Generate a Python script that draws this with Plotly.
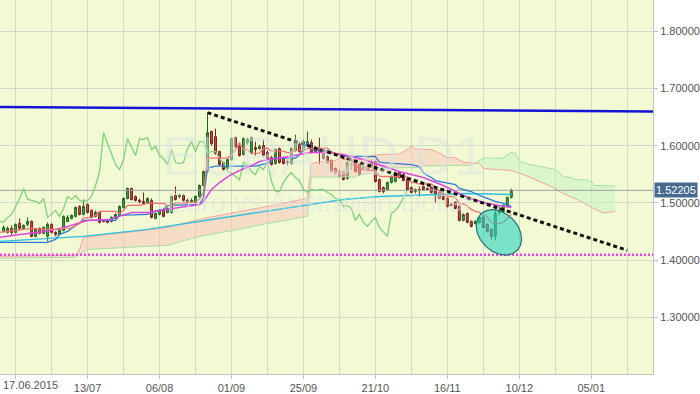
import numpy as np
import plotly.graph_objects as go

# ---------------- data (EURAUD daily, bar index 0 = 17.06.2015) ----------------
first_bar = -3
opens = [1.4504, 1.4486, 1.4556, 1.4486, 1.4643, 1.4556, 1.4626, 1.4678, 1.4417, 1.4556,
         1.4469, 1.4417, 1.4626, 1.4486, 1.4451, 1.4521, 1.4678, 1.4730, 1.4765, 1.4939,
         1.4800, 1.4974, 1.4870, 1.4765, 1.4835, 1.4695, 1.4695, 1.4678, 1.4730, 1.4783,
         1.4922, 1.5079, 1.5253, 1.5113, 1.5044, 1.5026, 1.5009, 1.5044, 1.4730, 1.4800,
         1.4887, 1.4835, 1.4835, 1.5131, 1.5113, 1.5131, 1.5044, 1.5026, 1.5009, 1.5113,
         1.5305, 1.5549, 1.6246, 1.6158, 1.5897, 1.5706, 1.5601, 1.5758, 1.6141, 1.5984,
         1.5845, 1.6054, 1.5880, 1.5967, 1.5949, 1.6002, 1.5880, 1.5793, 1.5688, 1.5949,
         1.5775, 1.5723, 1.5688, 1.5915, 1.6019, 1.5915, 1.6002, 1.6054, 1.5932, 1.5949,
         1.5880, 1.5810, 1.5741, 1.5601, 1.5549, 1.5549, 1.5427, 1.5653, 1.5706, 1.5671,
         1.5584, 1.5636, 1.5636, 1.5723, 1.5409, 1.5270, 1.5235, 1.5357, 1.5375, 1.5531,
         1.5497, 1.5409, 1.5270, 1.5200, 1.5235, 1.5288, 1.5253, 1.5270, 1.5235, 1.5183,
         1.5113, 1.5079, 1.4974, 1.5009, 1.4939, 1.4695, 1.4817, 1.4678, 1.4643, 1.4661,
         1.4748, 1.4626, 1.4539, 1.4417, 1.4835, 1.4852, 1.4939, 1.5096]
highs = [1.4608, 1.4591, 1.4608, 1.4643, 1.4730, 1.4626, 1.4748, 1.4695, 1.4556, 1.4573,
         1.4591, 1.4661, 1.4643, 1.4504, 1.4539, 1.4783, 1.4783, 1.4800, 1.4939, 1.4957,
         1.5061, 1.4992, 1.4887, 1.4870, 1.4852, 1.4713, 1.4713, 1.4765, 1.4817, 1.4957,
         1.5096, 1.5270, 1.5270, 1.5131, 1.5079, 1.5183, 1.5096, 1.5079, 1.4835, 1.4887,
         1.4904, 1.4922, 1.5131, 1.5288, 1.5166, 1.5148, 1.5079, 1.5079, 1.5131, 1.5322,
         1.5566, 1.6577, 1.6263, 1.6298, 1.5915, 1.5723, 1.5775, 1.6141, 1.6158, 1.6019,
         1.6141, 1.6141, 1.6158, 1.6071, 1.6019, 1.6106, 1.5915, 1.5828, 1.5949, 1.5967,
         1.5810, 1.5758, 1.5967, 1.6193, 1.6054, 1.6106, 1.6246, 1.6106, 1.5984, 1.6141,
         1.5897, 1.5828, 1.5758, 1.5619, 1.5584, 1.5566, 1.5723, 1.5758, 1.5723, 1.5688,
         1.5653, 1.5671, 1.5758, 1.5741, 1.5427, 1.5288, 1.5375, 1.5479, 1.5549, 1.5549,
         1.5531, 1.5427, 1.5288, 1.5253, 1.5288, 1.5305, 1.5270, 1.5288, 1.5253, 1.5200,
         1.5131, 1.5096, 1.4992, 1.5026, 1.4957, 1.4817, 1.4835, 1.4695, 1.4695, 1.4765,
         1.4765, 1.4643, 1.4556, 1.4922, 1.4939, 1.4974, 1.5113, 1.5253]
lows = [1.4486, 1.4469, 1.4434, 1.4469, 1.4521, 1.4539, 1.4591, 1.4399, 1.4399, 1.4451,
        1.4451, 1.4329, 1.4469, 1.4417, 1.4434, 1.4504, 1.4661, 1.4713, 1.4748, 1.4783,
        1.4783, 1.4817, 1.4730, 1.4748, 1.4643, 1.4661, 1.4643, 1.4661, 1.4713, 1.4765,
        1.4904, 1.5061, 1.5044, 1.5026, 1.4992, 1.4974, 1.4992, 1.4730, 1.4713, 1.4783,
        1.4748, 1.4817, 1.4817, 1.5044, 1.5079, 1.5026, 1.4992, 1.5009, 1.4992, 1.5096,
        1.5288, 1.5531, 1.6002, 1.5845, 1.5653, 1.5566, 1.5584, 1.5741, 1.5967, 1.5810,
        1.5828, 1.6019, 1.5862, 1.5828, 1.5932, 1.5810, 1.5758, 1.5653, 1.5671, 1.5688,
        1.5671, 1.5653, 1.5671, 1.5897, 1.5880, 1.5897, 1.5984, 1.5862, 1.5880, 1.5671,
        1.5758, 1.5688, 1.5531, 1.5497, 1.5444, 1.5392, 1.5409, 1.5584, 1.5531, 1.5479,
        1.5566, 1.5549, 1.5619, 1.5357, 1.5183, 1.5166, 1.5218, 1.5340, 1.5357, 1.5427,
        1.5375, 1.5218, 1.5166, 1.5166, 1.5113, 1.5218, 1.5218, 1.5166, 1.5009, 1.5061,
        1.5044, 1.4922, 1.4939, 1.4887, 1.4678, 1.4678, 1.4643, 1.4573, 1.4626, 1.4643,
        1.4556, 1.4486, 1.4364, 1.4347, 1.4783, 1.4835, 1.4922, 1.5079]
closes = [1.4573, 1.4556, 1.4486, 1.4626, 1.4556, 1.4608, 1.4678, 1.4417, 1.4539, 1.4469,
          1.4573, 1.4626, 1.4486, 1.4451, 1.4521, 1.4765, 1.4748, 1.4783, 1.4922, 1.4800,
          1.4939, 1.4835, 1.4748, 1.4835, 1.4661, 1.4678, 1.4661, 1.4748, 1.4800, 1.4939,
          1.5079, 1.5253, 1.5061, 1.5044, 1.5026, 1.4992, 1.5079, 1.4748, 1.4817, 1.4870,
          1.4765, 1.4904, 1.5113, 1.5061, 1.5131, 1.5044, 1.5026, 1.5044, 1.5113, 1.5305,
          1.5549, 1.6228, 1.6037, 1.5862, 1.5671, 1.5584, 1.5758, 1.6124, 1.5984, 1.5828,
          1.6124, 1.6106, 1.6141, 1.5932, 1.5984, 1.5828, 1.5775, 1.5671, 1.5932, 1.5706,
          1.5688, 1.5706, 1.5949, 1.6071, 1.5897, 1.6071, 1.6071, 1.5880, 1.5897, 1.5897,
          1.5775, 1.5706, 1.5549, 1.5514, 1.5462, 1.5409, 1.5706, 1.5671, 1.5549, 1.5497,
          1.5636, 1.5584, 1.5723, 1.5375, 1.5200, 1.5200, 1.5357, 1.5462, 1.5531, 1.5444,
          1.5392, 1.5235, 1.5183, 1.5235, 1.5218, 1.5235, 1.5235, 1.5183, 1.5148, 1.5079,
          1.5061, 1.4939, 1.4957, 1.4904, 1.4695, 1.4800, 1.4661, 1.4591, 1.4678, 1.4748,
          1.4573, 1.4504, 1.4417, 1.4817, 1.4870, 1.4957, 1.5096, 1.52205]

tick_bars = [0, 18, 36, 54, 72, 90, 108, 126, 144]
tick_labels = ["17.06.2015", "13/07", "06/08", "01/09", "25/09", "21/10", "16/11", "10/12", "05/01"]
price_ticks = [1.3, 1.4, 1.5, 1.6, 1.7, 1.8]
last_price = 1.52205
chikou_shift = 26

# Ichimoku / moving-average lines (bar index, price)
tenkan_i = [-4, 4, 8, 11, 12, 14, 16, 17, 19, 20, 21, 25, 26, 27, 28, 31, 33, 37, 38, 39, 40, 43,
            45, 46, 47, 48, 53, 54, 55, 56, 57, 58, 59, 60, 61, 62, 63, 64, 67, 68, 69, 70, 72,
            73, 76, 78, 79, 80, 81, 82, 84, 85, 86, 87, 89, 90, 91, 92, 97, 98, 99, 100, 101,
            104, 105, 106, 107, 108, 109, 110, 111, 112, 113, 114, 115, 116, 117, 118, 119, 120,
            121, 122, 123, 124]
tenkan_p = [1.4486, 1.4556, 1.4539, 1.4539, 1.4556, 1.4565, 1.4643, 1.4739, 1.4748, 1.4783,
            1.4852, 1.4852, 1.4817, 1.4870, 1.4957, 1.4957, 1.4992, 1.4992, 1.4948, 1.4948,
            1.5000, 1.5000, 1.5018, 1.5070, 1.5192, 1.5784, 1.5784, 1.5836, 1.5932, 1.6054,
            1.5932, 1.5932, 1.5862, 1.5862, 1.5871, 1.5949, 1.5958, 1.5906, 1.5906, 1.5880,
            1.5880, 1.5923, 1.5923, 1.5949, 1.5949, 1.5958, 1.5889, 1.5871, 1.5845, 1.5767,
            1.5767, 1.5645, 1.5610, 1.5575, 1.5575, 1.5558, 1.5470, 1.5462, 1.5462, 1.5453,
            1.5357, 1.5357, 1.5331, 1.5331, 1.5270, 1.5218, 1.5157, 1.5113, 1.5113, 1.5096,
            1.4983, 1.4983, 1.4948, 1.4887, 1.4852, 1.4835, 1.4791, 1.4756, 1.4661, 1.4634,
            1.4643, 1.4661, 1.4730, 1.4800]
kijun_i = [-4, 8, 10, 11, 13, 15, 17, 25, 26, 33, 35, 37, 38, 46, 47, 48, 50, 60, 61, 63, 65,
           70, 71, 72, 73, 74, 75, 76, 78, 79, 80, 81, 82, 90, 91, 92, 99, 101, 102, 103, 104,
           105, 108, 110, 111, 114, 116, 118, 120, 122, 124]
kijun_p = [1.4312, 1.4312, 1.4364, 1.4451, 1.4504, 1.4608, 1.4695, 1.4695, 1.4783, 1.4800,
           1.4861, 1.4887, 1.4957, 1.4974, 1.5096, 1.5610, 1.5645, 1.5645, 1.5662, 1.5697,
           1.5784, 1.5784, 1.5836, 1.5932, 1.6054, 1.5932, 1.5932, 1.5906, 1.5915, 1.5889,
           1.5871, 1.5845, 1.5819, 1.5810, 1.5714, 1.5706, 1.5671, 1.5636, 1.5531, 1.5479,
           1.5444, 1.5392, 1.5357, 1.5322, 1.5253, 1.5200, 1.5131, 1.5079, 1.5026, 1.4992,
           1.4939]
senkou_a_i = [-4, 15, 16, 17, 23, 28, 38, 46, 56, 63, 73, 74, 76, 80, 82, 83, 85, 87, 89, 91,
              96, 98, 99, 100, 104, 106, 108, 110, 112, 116, 117, 124, 127, 130, 134, 137,
              141, 145, 147, 150]
senkou_a_p = [1.4068, 1.4086, 1.4190, 1.4399, 1.4451, 1.4486, 1.4573, 1.4713, 1.4852, 1.4939,
              1.5079, 1.5697, 1.5714, 1.5740, 1.5845, 1.5793, 1.5758, 1.5767, 1.5827, 1.5845,
              1.5854, 1.5932, 1.6002, 1.5941, 1.5932, 1.5871, 1.5793, 1.5793, 1.5714, 1.5688,
              1.5601, 1.5566, 1.5497, 1.5409, 1.5288, 1.5165, 1.5044, 1.4887, 1.4826, 1.4852]
senkou_b_i = [-4, 15, 16, 18, 28, 38, 46, 56, 63, 73, 74, 85, 86, 88, 89, 90, 101, 102, 114,
              115, 117, 122, 123, 124, 125, 126, 127, 128, 132, 135, 137, 139, 140, 143, 144,
              145, 150]
senkou_b_p = [1.4033, 1.4051, 1.4103, 1.4190, 1.4225, 1.4260, 1.4417, 1.4539, 1.4643, 1.4765,
              1.5453, 1.5453, 1.5497, 1.5505, 1.5540, 1.5610, 1.5619, 1.5645, 1.5662, 1.5697,
              1.5784, 1.5784, 1.5836, 1.5880, 1.5871, 1.5732, 1.5706, 1.5680, 1.5627, 1.5584,
              1.5462, 1.5444, 1.5409, 1.5401, 1.5366, 1.5305, 1.5296]
ma_fast_i = [-4, 1, 8, 13, 18, 23.5, 29, 33.5, 37.5, 42.5, 46, 47, 48, 49, 51, 53.5, 56, 58.5,
             61, 63.5, 68.5, 73.5, 78, 82, 87, 92, 96, 102, 107, 113, 118, 124]
ma_fast_p = [1.4399, 1.4451, 1.4504, 1.4591, 1.4695, 1.4713, 1.4835, 1.4835, 1.4887, 1.4939,
             1.4974, 1.5026, 1.5131, 1.5235, 1.5357, 1.5479, 1.5566, 1.5636, 1.5723, 1.5758,
             1.5810, 1.5880, 1.5880, 1.5845, 1.5758, 1.5636, 1.5549, 1.5444, 1.5305, 1.5096,
             1.4992, 1.4922]
ma_slow_i = [-4, 17, 33, 46, 61, 71, 82, 91, 103, 113, 124]
ma_slow_p = [1.4329, 1.4417, 1.4539, 1.4678, 1.4835, 1.4939, 1.5061, 1.5113, 1.5148, 1.5166,
             1.5148]

# drawn objects (price levels / trend lines)
resist_line_i = [-4, 160]
resist_line_p = [1.6677, 1.65985]
trend_line_i = [48, 153]
trend_line_p = [1.6577, 1.4173]
support_level = 1.4094
ellipse_center = (120.9, 1.4486)   # bar index, price
ellipse_axes_px = (25.8, 19.2)
ellipse_angle_deg = 45

# ---------------- layout constants ----------------
W, H = 700, 394
M = dict(l=0, r=44, t=0, b=19)
x_range = [-3.91, 159.45]
y_range = [1.20125, 1.8545]
px_per_i = (W - M["l"] - M["r"]) / (x_range[1] - x_range[0])
px_per_p = (H - M["t"] - M["b"]) / (y_range[1] - y_range[0])

bg = "#f2fad4"
grid = "#d6d8cc"
font_fam = "Liberation Sans, Arial, sans-serif"

bars = list(range(first_bar, first_bar + len(closes)))
fig = go.Figure()

# ---- Kumo fill ----
gx = np.arange(min(senkou_a_i[0], senkou_b_i[0]), max(senkou_a_i[-1], senkou_b_i[-1]) + 1e-9, 0.05)
ga = np.interp(gx, senkou_a_i, senkou_a_p)
gb = np.interp(gx, senkou_b_i, senkou_b_p)
up = ga >= gb
s = 0
n = len(gx)
for k in range(1, n + 1):
    if k == n or up[k] != up[s]:
        e = min(k + 1, n)
        xs = gx[s:e]
        poly_x = np.concatenate([xs, xs[::-1]])
        poly_y = np.concatenate([ga[s:e], gb[s:e][::-1]])
        col = "rgba(250,192,182,0.5)" if up[s] else "rgba(196,242,190,0.5)"
        fig.add_trace(go.Scatter(x=poly_x, y=poly_y, fill="toself", fillcolor=col,
                                 line=dict(width=0), mode="lines", hoverinfo="skip"))
        s = k

fig.add_trace(go.Scatter(x=senkou_a_i, y=senkou_a_p, mode="lines",
                         line=dict(color="#f4a4a0", width=1)))
fig.add_trace(go.Scatter(x=senkou_b_i, y=senkou_b_p, mode="lines",
                         line=dict(color="#a6e0a2", width=1)))

# current price line
fig.add_trace(go.Scatter(x=[x_range[0] - 5, x_range[1] + 5], y=[last_price, last_price], mode="lines",
                         line=dict(color="#a0a0a0", width=1)))

# slow MA, chikou, kijun, fast MA, tenkan
fig.add_trace(go.Scatter(x=ma_slow_i, y=ma_slow_p, mode="lines", line=dict(color="#2ec0e0", width=1.4)))
fig.add_trace(go.Scatter(x=[b - chikou_shift for b in bars], y=closes, mode="lines",
                         line=dict(color="#7ed27a", width=1.3)))
fig.add_trace(go.Scatter(x=kijun_i, y=kijun_p, mode="lines", line=dict(color="#2a7fd8", width=1.3)))
fig.add_trace(go.Scatter(x=ma_fast_i, y=ma_fast_p, mode="lines", line=dict(color="#dd44e6", width=1.5)))
fig.add_trace(go.Scatter(x=tenkan_i, y=tenkan_p, mode="lines", line=dict(color="#f07070", width=1.3)))

# candles
fig.add_trace(go.Candlestick(
    x=bars, open=opens, high=highs, low=lows, close=closes,
    increasing=dict(fillcolor="#43a043", line=dict(color="#1e661e", width=1)),
    decreasing=dict(fillcolor="#c9504d", line=dict(color="#7c1f1f", width=1)),
    whiskerwidth=0, hoverinfo="skip"))

# resistance (blue), support (magenta dotted), trend line (black dotted)
fig.add_trace(go.Scatter(x=resist_line_i, y=resist_line_p, mode="lines",
                         line=dict(color="#1414d6", width=2.5)))
fig.add_trace(go.Scatter(x=[x_range[0] - 5, x_range[1] + 5], y=[support_level, support_level], mode="lines",
                         line=dict(color="#f040f0", width=2.5, dash="2px,2px")))
fig.add_trace(go.Scatter(x=trend_line_i, y=trend_line_p, mode="lines",
                         line=dict(color="#111111", width=3, dash="4px,3px")))

# ellipse highlight
t = np.linspace(0, 2 * np.pi, 120)
th = np.radians(ellipse_angle_deg)
ea, eb = ellipse_axes_px
dx = ea * np.cos(t) * np.cos(th) - eb * np.sin(t) * np.sin(th)
dy = ea * np.cos(t) * np.sin(th) + eb * np.sin(t) * np.cos(th)
fig.add_trace(go.Scatter(x=ellipse_center[0] + dx / px_per_i, y=ellipse_center[1] - dy / px_per_p,
                         mode="lines", fill="toself", fillcolor="rgba(40,210,190,0.6)",
                         line=dict(color="#2a6f78", width=1.2)))

annotations = [
    dict(x=77.2, y=1.5827, xref="x", yref="y", text="EURAUD D1", showarrow=False,
         font=dict(size=56, color="rgba(222,228,222,0.5)", family=font_fam)),
    dict(x=76.2, y=1.5009, xref="x", yref="y", text="Euro vs Australian Dollar", showarrow=False,
         font=dict(size=28, color="rgba(222,228,222,0.5)", family=font_fam)),
    dict(x=1, y=last_price, xref="paper", yref="y", xanchor="left", yanchor="middle",
         text=f"{last_price:.5f}", showarrow=False, xshift=1, bgcolor="#476a90", borderpad=1,
         font=dict(size=11, color="white", family=font_fam)),
    dict(x=0, y=0, xref="paper", yref="paper", xanchor="left", yanchor="top", yshift=-3, xshift=1,
         text=tick_labels[0], showarrow=False, font=dict(size=11, color="#555555", family=font_fam)),
]

minor_vals = [b + 9 for b in tick_bars] + [b - 9 for b in tick_bars[:1]]

fig.update_layout(
    width=W, height=H, margin=M, paper_bgcolor="white", plot_bgcolor=bg,
    showlegend=False, hovermode=False, annotations=annotations,
    font=dict(family=font_fam, size=11, color="#555555"),
    xaxis=dict(range=x_range, type="linear", rangeslider=dict(visible=False),
               tickmode="array", tickvals=tick_bars,
               ticktext=["" if k == 0 else lab for k, lab in enumerate(tick_labels)],
               showgrid=True, gridcolor=grid, gridwidth=1, zeroline=False,
               ticks="outside", ticklen=4, tickcolor="#c0c0c0",
               showline=True, linecolor="#c4c4c4", linewidth=1,
               minor=dict(tickvals=minor_vals, showgrid=True, gridcolor=grid, ticks="")),
    yaxis=dict(range=y_range, side="right", tickmode="array", tickvals=price_ticks,
               tickformat=".5f", showgrid=True, gridcolor=grid, gridwidth=1, zeroline=False,
               ticks="outside", ticklen=4, tickcolor="#c0c0c0",
               showline=True, linecolor="#c4c4c4", linewidth=1),
)

fig.write_html("out.html")
